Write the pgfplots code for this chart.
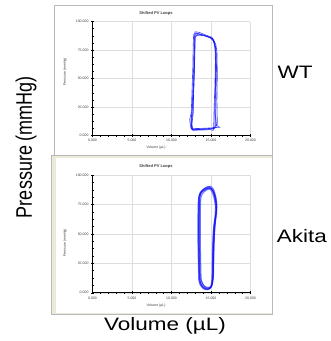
\documentclass[border=0pt]{standalone}
\usepackage{graphicx}
\usepackage{pgfplots}
\pgfplotsset{compat=1.18}
\usepackage{fontspec}
\setmainfont{Liberation Sans}
\definecolor{panelgray}{RGB}{185,185,185}
\definecolor{beigeb}{RGB}{236,233,216}
\definecolor{gridgray}{RGB}{222,222,222}
\definecolor{loopblue}{RGB}{10,10,250}
\definecolor{labgray}{RGB}{60,60,60}

\pgfplotsset{pvaxis/.style={
 scale only axis, width=158pt,
 xmin=0,xmax=20,ymin=0,ymax=100,
 axis lines=left, axis line style={-, black, line width=0.45pt},
 xtick={0,5,10,15,20}, ytick={0,25,50,75,100},
 xticklabels={0.000,5.000,10.000,15.000,20.000},
 yticklabels={0.000,25.000,50.000,75.000,100.000},
 minor x tick num=4, minor y tick num=3,
 grid=major, major grid style={gridgray, line width=0.4pt},
 tick align=center, major tick length=3pt, minor tick length=2pt,
 every tick/.style={black, line width=0.3pt},
 xticklabel style={font=\fontsize{3.5}{4}\selectfont, text=labgray, yshift=1pt},
 yticklabel style={font=\fontsize{3.5}{4}\selectfont, text=labgray, xshift=1pt},
 /pgf/number format/assume math mode=true,
}}

\begin{document}
\begin{tikzpicture}[x=1pt,y=1pt]
\useasboundingbox (0,0) rectangle (331,341);
% panels
\draw[panelgray, fill=white, line width=0.6pt] (54,184) rectangle (272,336);
\fill[beigeb] (51,27) rectangle (272.5,186);
\fill[white] (55.5,27.5) rectangle (272,182.5);
\draw[panelgray, line width=0.5pt] (51,27) rectangle (272.5,186);

% top (WT) axis
\begin{axis}[pvaxis, height=114pt, at={(92.5pt,205.5pt)}, anchor=south west]
\addplot[loopblue, opacity=0.75, line width=0.6pt] coordinates {(12.6,5) (13.5,5.3) (14.5,5.6) (15.4,6) (15.6,9) (15.6,20) (15.65,40) (15.7,60) (15.65,75) (15.5,80) (15.2,85) (14.5,87) (13.6,89) (13.1,90) (12.9,88) (12.85,80) (12.8,60) (12.7,40) (12.6,20) (12.45,12) (12.5,7) (12.6,5)};
\addplot[loopblue, opacity=0.75, line width=0.6pt] coordinates {(12.5,6) (13.6,6.2) (14.8,6.6) (16.1,7.2) (15.7,9) (15.5,20) (15.55,40) (15.6,60) (15.6,76) (15.45,81) (15.15,86) (14.4,88) (13.5,90.5) (13.0,91) (12.8,88) (12.75,80) (12.7,60) (12.6,40) (12.5,20) (12.3,14) (12.4,8) (12.5,6)};
\addplot[loopblue, opacity=0.75, line width=0.6pt] coordinates {(12.7,4.5) (13.8,4.8) (14.9,5.2) (15.3,4.5) (15.35,10) (15.4,25) (15.5,45) (15.55,65) (15.5,77) (15.3,83) (14.9,86) (14.2,87.5) (13.4,88) (13.0,87) (12.95,78) (12.9,60) (12.8,40) (12.75,20) (12.6,10) (12.7,4.5)};
\addplot[loopblue, opacity=0.75, line width=0.6pt] coordinates {(12.55,5.5) (14,5.8) (15.5,6.5) (15.8,10) (15.75,30) (15.8,55) (15.75,74) (15.6,80) (15.3,84.5) (14.6,86.5) (13.8,88.5) (13.2,89.5) (12.95,87.5) (12.9,75) (12.85,55) (12.7,30) (12.5,15) (12.55,5.5)};
\addplot[loopblue, opacity=0.75, line width=0.6pt] coordinates {(12.65,5) (14.2,5.5) (15.2,5.8) (15.5,7) (15.5,25) (15.6,50) (15.6,72) (15.4,82) (15.0,85.5) (14.0,88) (13.3,89) (13.0,86) (12.95,70) (12.85,45) (12.7,20) (12.5,10) (12.65,5)};
\end{axis}

% bottom (Akita) axis
\begin{axis}[pvaxis, height=117.7pt, at={(92.5pt,48.3pt)}, anchor=south west]
\addplot[loopblue, opacity=0.55, line width=1pt, smooth, tension=0.5] coordinates {(13.55,12) (13.5,25) (13.45,45) (13.45,65) (13.5,80) (13.7,85) (14.2,88) (14.8,89.5) (15.2,87) (15.5,81) (15.65,74) (15.6,66) (15.4,55) (15.3,40) (15.25,25) (15.2,12) (15.0,5) (14.6,3.5) (14.1,4.5) (13.7,8) (13.55,12)};
\addplot[loopblue, opacity=0.55, line width=1pt, smooth, tension=0.5] coordinates {(13.65,13) (13.6,26) (13.55,46) (13.55,66) (13.6,81) (13.8,86) (14.3,89) (14.9,90.5) (15.3,88) (15.6,82) (15.75,75) (15.7,67) (15.5,56) (15.4,41) (15.35,26) (15.3,13) (15.1,6) (14.7,4.5) (14.2,5.5) (13.8,9) (13.65,13)};
\addplot[loopblue, opacity=0.55, line width=1pt, smooth, tension=0.5] coordinates {(13.45,11) (13.4,24) (13.35,44) (13.35,64) (13.4,79) (13.6,84) (14.1,87) (14.7,88.5) (15.1,86) (15.4,80) (15.55,73) (15.5,65) (15.3,54) (15.2,39) (15.15,24) (15.1,11) (14.9,4) (14.5,2.5) (14.0,3.5) (13.6,7) (13.45,11)};
\addplot[loopblue, opacity=0.55, line width=1pt, smooth, tension=0.5] coordinates {(13.75,12) (13.7,25) (13.65,45) (13.65,65) (13.7,79) (13.9,84) (14.4,87) (14.95,88.5) (15.35,86) (15.6,80) (15.7,72) (15.55,64) (15.35,54) (15.25,40) (15.2,25) (15.2,12) (15.05,5.5) (14.65,4) (14.2,5) (13.9,8.5) (13.75,12)};
\addplot[loopblue, opacity=0.55, line width=1pt, smooth, tension=0.5] coordinates {(13.5,12.5) (13.45,25) (13.4,45) (13.4,65) (13.45,80.5) (13.65,85.5) (14.15,88.5) (14.75,90) (15.15,87.5) (15.45,81.5) (15.6,74.5) (15.65,68) (15.5,57) (15.35,42) (15.3,26) (15.25,13) (15.05,5) (14.6,3) (14.05,4) (13.65,7.5) (13.5,12.5)};
\addplot[loopblue, opacity=0.55, line width=1pt, smooth, tension=0.5] coordinates {(13.6,11) (13.55,24) (13.5,44) (13.5,64) (13.55,79) (13.75,84.5) (14.25,87.5) (14.85,89) (15.25,86.5) (15.55,80.5) (15.7,73.5) (15.6,65) (15.45,55) (15.35,40) (15.3,25) (15.25,11) (15.0,4.5) (14.55,3) (14.1,4) (13.75,7) (13.6,11)};
\end{axis}

% small panel texts
\node[font=\bfseries\fontsize{4}{5}\selectfont, text=labgray] at (156,328) {Shifted PV Loops};
\node[font=\fontsize{3.5}{4}\selectfont, text=labgray, rotate=90] at (65,269) {Pressure (mmHg)};
\node[font=\fontsize{3.5}{4}\selectfont, text=labgray] at (156,193) {Volume (µL)};
\node[font=\bfseries\fontsize{4}{5}\selectfont, text=labgray] at (156,175) {Shifted PV Loops};
\node[font=\fontsize{3.5}{4}\selectfont, text=labgray, rotate=90] at (65,98) {Pressure (mmHg)};
\node[font=\fontsize{3.5}{4}\selectfont, text=labgray] at (156,35) {Volume (µL)};

% big labels
\node[font=\fontsize{18}{20}\selectfont, rotate=90] at (26,194) {\scalebox{1}[1.25]{Pressure (mmHg)}};
\node[font=\fontsize{18}{20}\selectfont] at (165,15) {\scalebox{1.25}[1]{Volume (µL)}};
\node[font=\fontsize{18}{20}\selectfont] at (295,269) {\scalebox{1.25}[1]{WT}};
\node[font=\fontsize{18}{20}\selectfont] at (302,105) {\scalebox{1.25}[1]{Akita}};
\end{tikzpicture}
\end{document}
